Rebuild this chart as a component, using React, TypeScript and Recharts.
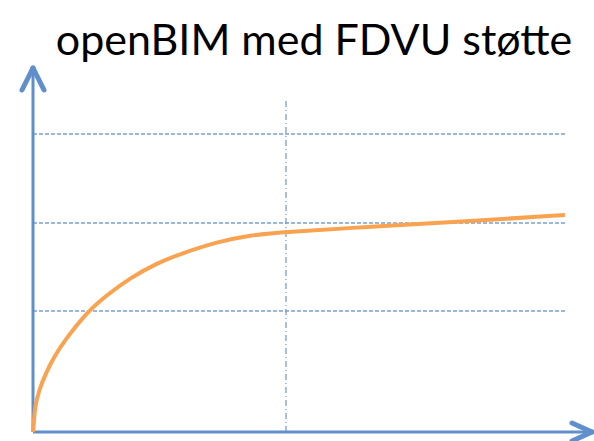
import React from 'react';
import { LineChart, Line, XAxis, YAxis, ReferenceLine } from 'recharts';

// values (x = distance from the y axis, y = height above the x axis)
const curveX = [0, 1, 2, 6, 13, 21, 32, 54, 74, 97, 124, 150, 184, 217, 252, 332, 407, 532];
const curveY = [0, 12, 25, 42, 59, 75, 92, 120, 137, 154, 169, 179, 190, 197, 200, 205, 209, 217];
const gridLevels = [121, 209, 298];
const dividerX = 253;
const dividerTop = 332;
const gridEnd = 532;
const xMax = 559;
const yMax = 364;

const chartData = curveX.map((x, i) => ({ x, y: curveY[i] }));

const AXIS = '#5f8fcc';
const GRID = '#7aa0d2';
const ORANGE = '#f9a24f';

const App: React.FC = () => {
  return (
    <div style={{ position: 'absolute', left: 0, top: 0, width: 594, height: 441, background: '#fff' }}>
      <div
        style={{
          position: 'absolute',
          left: 0,
          top: 14,
          width: 628,
          textAlign: 'center',
          fontFamily: 'Lato, sans-serif',
          fontSize: 43,
          color: '#000',
          lineHeight: '50px',
        }}
      >
        openBIM med FDVU støtte
      </div>
      <LineChart
        width={594}
        height={441}
        data={chartData}
        margin={{ top: 68, right: 2, bottom: 9, left: 33 }}
        style={{ position: 'absolute', left: 0, top: 0 }}
      >
        <XAxis type="number" dataKey="x" domain={[0, xMax]} hide />
        <YAxis type="number" domain={[0, yMax]} hide />

        {gridLevels.map((g) => (
          <ReferenceLine
            key={g}
            segment={[{ x: 0, y: g }, { x: gridEnd, y: g }]}
            stroke={GRID}
            strokeWidth={1.5}
            strokeDasharray="4 2"
            ifOverflow="visible"
          />
        ))}
        <ReferenceLine
          segment={[{ x: dividerX, y: 0 }, { x: dividerX, y: dividerTop }]}
          stroke="#6f95c8"
          strokeWidth={1.2}
          strokeDasharray="6 3 1 3"
          ifOverflow="visible"
        />

        {/* axes with arrow heads */}
        <ReferenceLine segment={[{ x: 0, y: 0 }, { x: xMax, y: 0 }]} stroke={AXIS} strokeWidth={3} ifOverflow="visible" />
        <ReferenceLine segment={[{ x: 0, y: 0 }, { x: 0, y: yMax }]} stroke={AXIS} strokeWidth={3} ifOverflow="visible" />
        <ReferenceLine segment={[{ x: xMax - 20, y: 9 }, { x: xMax, y: 0 }]} stroke={AXIS} strokeWidth={5} strokeLinecap="round" ifOverflow="visible" />
        <ReferenceLine segment={[{ x: xMax - 20, y: -9 }, { x: xMax, y: 0 }]} stroke={AXIS} strokeWidth={5} strokeLinecap="round" ifOverflow="visible" />
        <ReferenceLine segment={[{ x: -11, y: yMax - 22 }, { x: 0, y: yMax }]} stroke={AXIS} strokeWidth={5} strokeLinecap="round" ifOverflow="visible" />
        <ReferenceLine segment={[{ x: 11, y: yMax - 22 }, { x: 0, y: yMax }]} stroke={AXIS} strokeWidth={5} strokeLinecap="round" ifOverflow="visible" />

        <Line
          type="basis"
          dataKey="y"
          stroke={ORANGE}
          strokeWidth={4}
          dot={false}
          activeDot={false}
          isAnimationActive={false}
        />
      </LineChart>
    </div>
  );
};

export default App;
